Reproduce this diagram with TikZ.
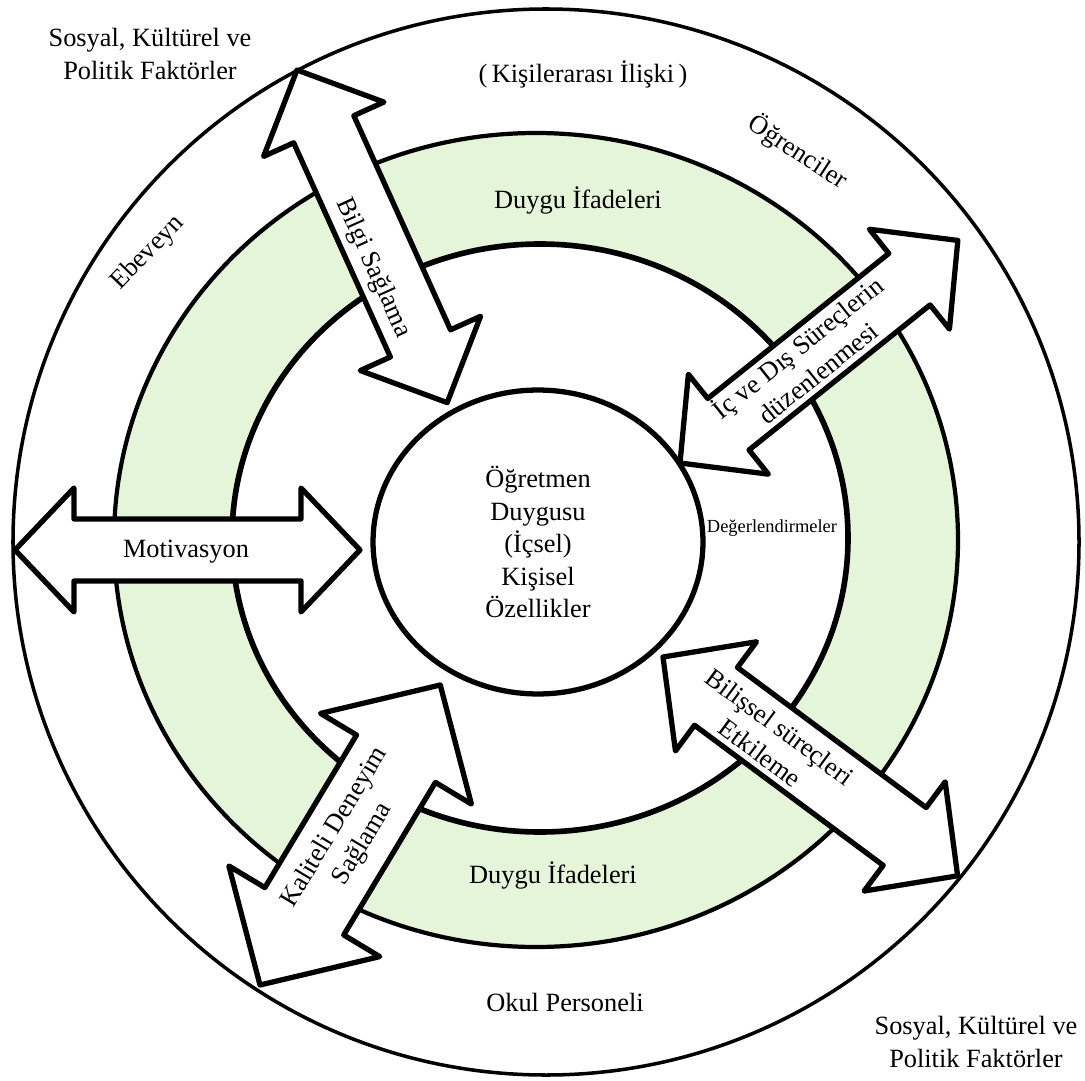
\documentclass[tikz,border=0pt]{standalone}
\usepackage{fontspec}
\setmainfont{Liberation Serif}
\usetikzlibrary{calc,shapes.geometric}
\definecolor{ringgreen}{RGB}{229,245,217}
\tikzset{
  outerline/.style={line width=2pt},
  ringline/.style={line width=2.4pt},
  arrowbox/.style={draw=black, fill=white, line width=3pt, line join=round},
  coreellipse/.style={ellipse, draw, line width=3pt, minimum width=6.6cm, minimum height=6.08cm, inner sep=0pt, align=center, font=\fontsize{15}{18.5}\selectfont},
  lbl/.style={align=center, inner sep=1pt, font=\fontsize{15}{18.5}\selectfont},
  smalllbl/.style={inner sep=1pt, font=\fontsize{10.5}{12}\selectfont}
}
\def\blockarrow(#1)(#2:#3:#4:#5:#6){%
  \begin{scope}[shift={(#1)},rotate=#2]
    \draw[arrowbox] (0,0) -- (#6,#5) -- (#6,#4) -- ({#3-#6},#4) -- ({#3-#6},#5)
      -- (#3,0) -- ({#3-#6},-#5) -- ({#3-#6},-#4) -- (#6,-#4) -- (#6,-#5) -- cycle;
  \end{scope}}

\begin{document}
\begin{tikzpicture}[x=0.02cm,y=-0.02cm]
		%%%%% FRAME %%%%%
		\useasboundingbox (0,0) rectangle (1085,1081);
		
		\draw[outerline] (546,542) circle [radius=533];
		
		%%%%% GREEN RING %%%%%
		\fill[ringgreen, even odd rule] (536,540) ellipse [x radius=422, y radius=407]
			(540,538) ellipse [x radius=308, y radius=294];
		\draw[ringline] (536,540) ellipse [x radius=422, y radius=407];
		\draw[ringline, line width=3.2pt] (540,538) ellipse [x radius=308, y radius=294];
		
		%%%%% ARROWS %%%%%
		\coordinate (motA) at (15,550);
		\coordinate (bilgiA) at (297,70);
		\coordinate (icA) at (680,463);
		\coordinate (bilisA) at (663,657);
		\coordinate (kaliteA) at (260,985);
		
		\blockarrow(motA)(0:345:31:62:59)
		\blockarrow(bilgiA)(-65.7:365:33:66:65)
		\blockarrow(icA)(38.7:356:33:64:62)
		\blockarrow(bilisA)(-36.6:367:36:68:66)
		\blockarrow(kaliteA)(59:350:46:88:86)
		
		%%%%% CENTRE %%%%%
		\node[coreellipse] (core) at (538,542) {Öğretmen\\Duygusu\\(İçsel)\\Kişisel\\Özellikler};
		
		%%%%% LABELS %%%%%
		\node[lbl] (sosyalTL) at (150,54) {Sosyal, Kültürel ve\\Politik Faktörler};
		\node[lbl] (sosyalBR) at (976,1042) {Sosyal, Kültürel ve\\Politik Faktörler};
		\node[lbl] (iliski) at (583,74) {(\,Kişilerarası İlişki\,)};
		\node[lbl, rotate=-33] (ogrenci) at (798,152) {Öğrenciler};
		\node[lbl, rotate=46] (ebeveyn) at (148,253) {Ebeveyn};
		\node[lbl] (duyguUst) at (578,200) {Duygu İfadeleri};
		\node[lbl] (duyguAlt) at (553,875) {Duygu İfadeleri};
		\node[lbl] (okul) at (565,1002) {Okul Personeli};
		\node[smalllbl] (deger) at (772,528) {Değerlendirmeler};
		
		\node[lbl] (motiv) at (186,552) {Motivasyon};
		\node[lbl, rotate=-65.7] (bilgi) at (373,268) {Bilgi Sağlama};
		\node[lbl, rotate=38.7] (icdis) at (807,359) {İç ve Dış Süreçlerin\\düzenlenmesi};
		\node[lbl, rotate=-36.6] (bilissel) at (770,740) {Bilişsel süreçleri\\Etkileme};
		\node[lbl, rotate=59] (kalite) at (349,836) {Kaliteli Deneyim\\Sağlama};
\end{tikzpicture}
\end{document}
